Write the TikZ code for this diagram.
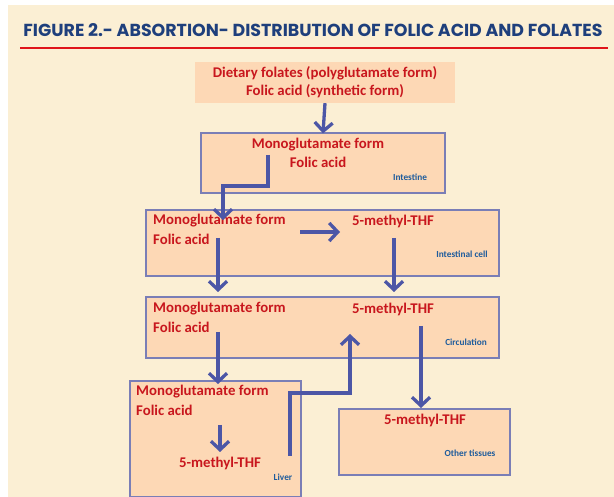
\documentclass[tikz,border=0pt]{standalone}
\usepackage{fontspec}
\setmainfont{Carlito}
\newfontfamily\titlefont{Poppins}
\usetikzlibrary{arrows.meta}
\definecolor{bgcream}{HTML}{FBEFD4}
\definecolor{peach}{HTML}{FDD8B5}
\definecolor{boxline}{HTML}{7A7EB6}
\definecolor{arrowblue}{HTML}{4C56A6}
\definecolor{txtred}{HTML}{C8161D}
\definecolor{titleblue}{HTML}{1E3F7C}
\definecolor{lblblue}{HTML}{1F5C9C}
\definecolor{linered}{HTML}{E0141A}
\tikzset{
  box/.style={fill=peach, draw=boxline, line width=1.3pt, inner sep=0pt},
  plainbox/.style={fill=peach, inner sep=0pt},
  redtxt/.style={text=txtred, font=\bfseries\fontsize{14.8}{17}\selectfont, inner sep=0pt},
  lbl/.style={text=lblblue, font=\bfseries\fontsize{9.3}{11}\selectfont, inner sep=0pt},
  flow/.style={draw=arrowblue, line width=3.3pt, -{Straight Barb[length=8.5pt,width=18pt,line width=3.3pt]}}
}
\begin{document}
\begin{tikzpicture}[x=1pt,y=-1pt]
\useasboundingbox (0,0) rectangle (614,497);
\fill[white] (0,0) rectangle (614,497);
\fill[bgcream] (8,5) rectangle (614,497);
% title
\node[text=titleblue, font=\titlefont\bfseries\fontsize{17.4}{20}\selectfont, inner sep=0pt] (title) at (313,30) {FIGURE 2.- ABSORTION- DISTRIBUTION OF FOLIC ACID AND FOLATES};
\coordinate (ulA) at (20,48);
\coordinate (ulB) at (608,48);
\draw[linered, line width=2pt] (ulA) -- (ulB);
% boxes
\node[plainbox, minimum width=260pt, minimum height=41pt] (b1) at (325,82.5) {};
\node[box, minimum width=244pt, minimum height=60pt] (b2) at (323,163) {};
\node[box, minimum width=353pt, minimum height=66pt] (b3) at (322.5,243) {};
\node[box, minimum width=353pt, minimum height=61pt] (b4) at (322.5,327.5) {};
\node[box, minimum width=171pt, minimum height=116pt] (b5) at (215.5,439) {};
\node[box, minimum width=171pt, minimum height=66pt] (b6) at (424.5,442) {};
% texts
\node[redtxt] (t1a) at (325,73) {Dietary folates (polyglutamate form)};
\node[redtxt] (t1b) at (325,91) {Folic acid (synthetic form)};
\node[redtxt] (t2a) at (318,145) {Monoglutamate form};
\node[redtxt] (t2b) at (318,162) {Folic acid};
\node[lbl] (l2) at (410,177) {Intestine};
\node[redtxt, anchor=west] (t3a) at (153,221) {Monoglutamate form};
\node[redtxt, anchor=west] (t3b) at (153,239) {Folic acid};
\node[redtxt] (t3c) at (393,221) {5-methyl-THF};
\node[lbl] (l3) at (462,254) {Intestinal cell};
\node[redtxt, anchor=west] (t4a) at (153,309) {Monoglutamate form};
\node[redtxt, anchor=west] (t4b) at (153,327) {Folic acid};
\node[redtxt] (t4c) at (393,309) {5-methyl-THF};
\node[lbl] (l4) at (466,342) {Circulation};
\node[redtxt, anchor=west] (t5a) at (136,392) {Monoglutamate form};
\node[redtxt, anchor=west] (t5b) at (136,410) {Folic acid};
\node[redtxt] (t5c) at (220,463) {5-methyl-THF};
\node[lbl] (l5) at (283,477) {Liver};
\node[redtxt] (t6a) at (425,420) {5-methyl-THF};
\node[lbl] (l6) at (470,453) {Other tissues};
% connectors
\draw[flow] (b1.south) -- ([yshift=-1pt]b2.north);
\coordinate (e1) at (268,155);
\coordinate (e2) at (268,186);
\coordinate (e3) at (223,220);
\draw[flow] (e1) -- (e2) -| (e3);
\coordinate (h1) at (300,232);
\coordinate (h2) at (340,232);
\draw[flow] (h1) -- (h2);
\coordinate (d1s) at (218,238);
\coordinate (d1e) at (218,292);
\draw[flow] (d1s) -- (d1e);
\coordinate (d2s) at (394,238);
\coordinate (d2e) at (394,292);
\draw[flow] (d2s) -- (d2e);
\coordinate (d3s) at (218,332);
\coordinate (d3e) at (218,384);
\draw[flow] (d3s) -- (d3e);
\coordinate (u1) at (290,456);
\coordinate (u2) at (290,393);
\coordinate (u3) at (350,334);
\draw[flow] (u1) -- (u2) -| (u3);
\coordinate (d4s) at (421,326);
\coordinate (d4e) at (421,408);
\draw[flow] (d4s) -- (d4e);
\coordinate (d5s) at (220,425);
\coordinate (d5e) at (220,452);
\draw[flow] (d5s) -- (d5e);
\end{tikzpicture}
\end{document}
